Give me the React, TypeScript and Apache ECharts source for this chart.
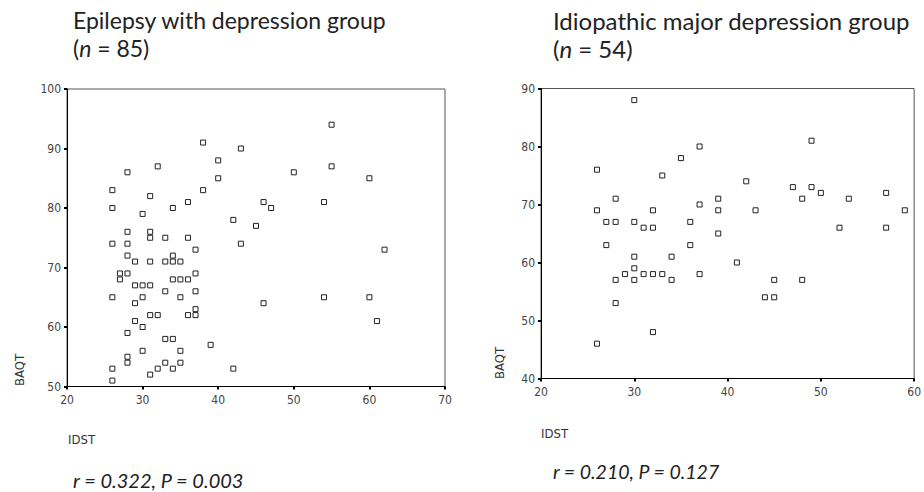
import React, { useEffect, useRef } from "react";
import * as echarts from "echarts";

// Epilepsy with depression group (IDST, BAQT)
const epilepsyIDST = [38, 43, 40, 28, 32, 26, 31, 38, 40, 26, 30, 34, 36, 42, 45, 55, 55, 50, 60, 46, 47, 54, 43, 62, 54, 60, 46, 61, 28, 31, 31, 33, 36, 26, 28, 37, 28, 34, 29, 31, 33, 34, 35, 27, 28, 37, 27, 34, 35, 36, 29, 30, 31, 33, 37, 26, 30, 35, 29, 37, 31, 32, 36, 37, 29, 30, 28, 33, 34, 39, 30, 35, 28, 28, 33, 35, 26, 32, 34, 42, 31, 26];
const epilepsyBAQT = [91, 90, 88, 86, 87, 83, 82, 83, 85, 80, 79, 80, 81, 78, 77, 94, 87, 86, 85, 81, 80, 81, 74, 73, 65, 65, 64, 61, 76, 76, 75, 75, 75, 74, 74, 73, 72, 72, 71, 71, 71, 71, 71, 69, 69, 69, 68, 68, 68, 68, 67, 67, 67, 66, 66, 65, 65, 65, 64, 63, 62, 62, 62, 62, 61, 60, 59, 58, 58, 57, 56, 56, 55, 54, 54, 54, 53, 53, 53, 53, 52, 51];

// Idiopathic major depression group (IDST, BAQT)
const idiopathicIDST = [30, 26, 37, 35, 33, 28, 26, 32, 37, 39, 39, 27, 28, 30, 36, 31, 32, 39, 27, 36, 30, 34, 30, 29, 31, 32, 33, 37, 28, 30, 34, 28, 32, 26, 49, 42, 47, 49, 50, 57, 48, 53, 43, 59, 52, 57, 41, 45, 48, 44, 45];
const idiopathicBAQT = [88, 76, 80, 78, 75, 71, 69, 69, 70, 71, 69, 67, 67, 67, 67, 66, 66, 65, 63, 63, 61, 61, 59, 58, 58, 58, 58, 58, 57, 57, 57, 53, 48, 46, 81, 74, 73, 73, 72, 72, 71, 71, 69, 69, 66, 66, 60, 57, 57, 54, 54];

const leftTitle = "Epilepsy with depression group";
const leftN = "85";
const leftStats = "r = 0.322, P = 0.003";
const rightTitle = "Idiopathic major depression group";
const rightN = "54";
const rightStats = "r = 0.210, P = 0.127";

const tickFont = "'Liberation Sans Narrow', 'DejaVu Sans Condensed', Arial, sans-serif";
const titleFont = "Lato, 'Open Sans', sans-serif";

export default function App() {
  const ref = useRef<HTMLDivElement>(null);
  useEffect(() => {
    document.body.style.margin = "0";
    if (!ref.current) return;
    const chart = echarts.init(ref.current, undefined, { renderer: "svg" });
    const pairs = (xs: number[], ys: number[]) => xs.map((x, i) => [x, ys[i]]);
    const axisCommon = {
      axisLine: { show: true, onZero: false, lineStyle: { color: "#000", width: 1 } },
      axisTick: { show: true, length: 3, lineStyle: { color: "#000", width: 2 } },
      splitLine: { show: false },
      axisLabel: { color: "#444", fontFamily: tickFont, fontSize: 12 },
    };
    const titleText = (x: number, title: string, n: string, size: number) => [
      {
        type: "text",
        left: x,
        top: 8,
        style: { text: title, font: `${size}px ${titleFont}`, fill: "#222" },
      },
      {
        type: "text",
        left: x,
        top: 36,
        style: {
          text: `(${"{i|n}"} = ${n})`,
          font: `${size}px ${titleFont}`,
          fill: "#222",
          rich: { i: { fontStyle: "italic", fontSize: size, fontFamily: titleFont, fill: "#222" } },
        } as any,
      },
    ];
    chart.setOption({
      animation: false,
      backgroundColor: "#fff",
      grid: [
        { left: 67, right: 479, top: 89, bottom: 105.5, show: true, borderColor: "#555", borderWidth: 1, containLabel: false },
        { left: 541, right: 7, top: 88.5, bottom: 113.5, show: true, borderColor: "#555", borderWidth: 1, containLabel: false },
      ],
      xAxis: [
        { type: "value", gridIndex: 0, min: 20, max: 70, interval: 10, ...axisCommon, axisLabel: { ...axisCommon.axisLabel, margin: 7 } },
        { type: "value", gridIndex: 1, min: 20, max: 60, interval: 10, ...axisCommon, axisLabel: { ...axisCommon.axisLabel, margin: 7 } },
      ],
      yAxis: [
        { type: "value", gridIndex: 0, min: 50, max: 100, interval: 10, ...axisCommon, axisLabel: { ...axisCommon.axisLabel, margin: 6 } },
        { type: "value", gridIndex: 1, min: 40, max: 90, interval: 10, ...axisCommon, axisLabel: { ...axisCommon.axisLabel, margin: 6 } },
      ],
      series: [
        {
          type: "scatter",
          xAxisIndex: 0,
          yAxisIndex: 0,
          data: pairs(epilepsyIDST, epilepsyBAQT),
          symbol: "rect",
          symbolSize: 5,
          itemStyle: { color: "#fff", borderColor: "#222", borderWidth: 1, opacity: 1 },
        },
        {
          type: "scatter",
          xAxisIndex: 1,
          yAxisIndex: 1,
          data: pairs(idiopathicIDST, idiopathicBAQT),
          symbol: "rect",
          symbolSize: 5,
          itemStyle: { color: "#fff", borderColor: "#222", borderWidth: 1, opacity: 1 },
        },
      ],
      graphic: [
        ...titleText(73, leftTitle, leftN, 23),
        ...titleText(553, rightTitle, rightN, 24),
        {
          type: "text",
          x: 19,
          y: 386,
          rotation: Math.PI / 2,
          style: { text: "BAQT", font: `13px ${tickFont}`, fill: "#333", align: "left", verticalAlign: "middle" },
        },
        {
          type: "text",
          x: 499,
          y: 379,
          rotation: Math.PI / 2,
          style: { text: "BAQT", font: `13px ${tickFont}`, fill: "#333", align: "left", verticalAlign: "middle" },
        },
        {
          type: "text",
          left: 68,
          top: 433,
          style: { text: "IDST", font: `13px ${tickFont}`, fill: "#333" },
        },
        {
          type: "text",
          left: 541,
          top: 427,
          style: { text: "IDST", font: `13px ${tickFont}`, fill: "#333" },
        },
        {
          type: "text",
          left: 73,
          top: 470,
          style: { text: leftStats, font: `italic 20px ${titleFont}`, fill: "#222" },
        },
        {
          type: "text",
          left: 553,
          top: 461,
          style: { text: rightStats, font: `italic 19.5px ${titleFont}`, fill: "#222" },
        },
      ],
    });
    return () => chart.dispose();
  }, []);
  return <div ref={ref} style={{ width: 924, height: 492 }} />;
}
